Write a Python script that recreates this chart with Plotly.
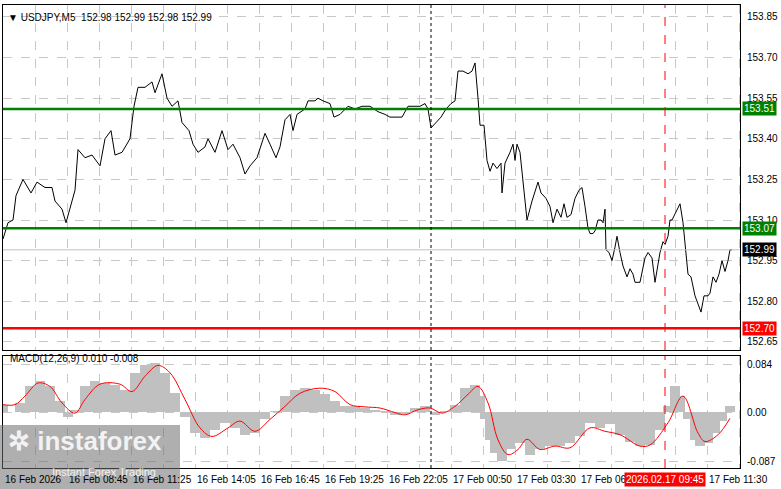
import plotly.graph_objects as go

# ---- data (positions read as pixel columns; converted to 5-minute bar numbers) ----
price_px = [3,8,13,16,23,31,37,45,52,55,62,66,75,78,85,92,100,105,111,115,122,130,134,138,145,152,155,162,167,172,178,182,189,193,198,205,208,215,222,228,233,240,245,250,257,265,270,276,280,285,290,293,297,305,308,315,318,323,330,334,340,348,355,362,370,378,385,390,395,402,408,415,420,425,428,431,436,441,446,451,455,458,463,468,472,475,478,480,484,487,490,493,497,501,502,505,510,513,515,517,520,524,527,532,535,538,541,546,550,553,557,561,564,567,571,575,579,582,585,588,590,593,595,598,601,603,605,606,609,612,615,617,620,623,627,630,633,635,640,645,648,652,655,660,663,665,668,670,672,676,680,683,686,688,691,695,698,701,704,708,710,713,716,719,722,725,728,730,732]
price = [153.03,153.09,153.10,153.19,153.25,153.20,153.24,153.22,153.22,153.17,153.14,153.09,153.21,153.36,153.33,153.34,153.30,153.40,153.43,153.34,153.35,153.40,153.52,153.59,153.59,153.61,153.57,153.64,153.55,153.52,153.54,153.46,153.43,153.38,153.35,153.37,153.40,153.35,153.43,153.36,153.38,153.33,153.27,153.30,153.33,153.42,153.38,153.33,153.37,153.47,153.49,153.43,153.49,153.51,153.54,153.54,153.55,153.54,153.53,153.48,153.49,153.52,153.51,153.52,153.52,153.50,153.49,153.48,153.48,153.48,153.52,153.52,153.52,153.53,153.51,153.44,153.46,153.48,153.51,153.53,153.54,153.65,153.65,153.64,153.65,153.68,153.55,153.45,153.45,153.32,153.28,153.31,153.29,153.31,153.20,153.31,153.35,153.38,153.32,153.38,153.35,153.20,153.10,153.17,153.21,153.24,153.20,153.18,153.15,153.09,153.14,153.11,153.16,153.11,153.12,153.18,153.21,153.22,153.15,153.07,153.05,153.05,153.06,153.10,153.10,153.09,153.14,152.99,152.98,152.95,153.00,153.04,152.98,152.93,152.89,152.92,152.90,152.87,152.87,152.96,152.98,152.96,152.87,152.98,153.02,153.01,153.04,153.10,153.10,153.13,153.16,153.09,152.99,152.90,152.89,152.82,152.79,152.76,152.82,152.82,152.83,152.89,152.87,152.90,152.95,152.91,152.95,152.99,152.99]

hist_px = [3,20,30,40,50,60,68,75,85,95,105,115,125,135,145,155,165,175,185,195,205,215,225,235,245,255,265,275,285,295,305,315,325,335,345,355,365,375,385,395,405,415,425,435,445,455,465,475,480,485,490,495,502,510,520,530,540,550,560,570,580,590,600,610,620,630,640,650,660,668,675,680,688,695,700,708,715,722,730]
macd_hist = [0.013,0.016,0.045,0.054,0.045,0.019,-0.008,0.004,0.045,0.054,0.051,0.048,0.039,0.069,0.083,0.086,0.069,0.033,-0.008,-0.037,-0.046,-0.031,-0.019,-0.028,-0.040,-0.037,-0.013,0.001,0.028,0.039,0.042,0.039,0.031,0.019,0.010,0.010,0.007,0.004,0.001,-0.005,-0.002,0.007,0.010,-0.005,0.001,0.013,0.042,0.048,0.028,-0.013,-0.049,-0.072,-0.087,-0.066,-0.055,-0.075,-0.066,-0.060,-0.060,-0.055,-0.043,-0.019,-0.028,-0.022,-0.040,-0.052,-0.060,-0.058,-0.031,0.010,0.045,0.028,-0.013,-0.049,-0.060,-0.055,-0.037,-0.016,0.010]

sig_px = [3,15,25,38,50,62,75,85,100,120,132,145,158,170,185,200,212,228,240,255,270,285,300,320,335,350,365,380,395,405,418,430,442,455,468,478,488,498,508,518,527,540,555,570,590,605,620,640,650,668,683,698,705,718,730]
macd_signal = [0.013,0.013,0.028,0.051,0.045,0.016,-0.002,0.022,0.049,0.049,0.036,0.063,0.082,0.069,0.022,-0.028,-0.043,-0.028,-0.016,-0.034,-0.013,0.010,0.033,0.042,0.036,0.013,0.009,0.007,-0.001,-0.005,0.004,0.007,-0.002,0.010,0.031,0.045,0.016,-0.049,-0.075,-0.066,-0.048,-0.066,-0.060,-0.063,-0.028,-0.034,-0.040,-0.060,-0.058,-0.019,0.028,-0.037,-0.052,-0.040,-0.011]

levels = [153.51, 153.07, 152.70]
level_colors = ["#008000", "#008000", "#ff0000"]
last_price = 152.99
price_ticks = [153.85, 153.70, 153.55, 153.40, 153.25, 153.10, 152.95, 152.80, 152.65]
time_labels = ["16 Feb 2026", "16 Feb 08:45", "16 Feb 11:25", "16 Feb 14:05", "16 Feb 16:45", "16 Feb 19:25",
               "16 Feb 22:05", "17 Feb 00:50", "17 Feb 03:30", "17 Feb 06:10", "17 Feb 11:30"]
time_label_bars = [0, 32, 64, 96, 128, 160, 192, 224, 256, 288, 352]
session_bar = 214
marker_bar = 331
marker_label = "2026.02.17 09:45"

W, H = 781, 489
def bar(px): return (px - 3) / 2.0

X0, X1 = 3, 740
xr = [0, bar(X1)]
fig = go.Figure()
fig.add_trace(go.Scatter(x=[bar(p) for p in price_px], y=price, mode="lines",
                         line=dict(color="black", width=1), xaxis="x", yaxis="y"))
fig.add_trace(go.Bar(x=[bar(p) for p in hist_px], y=macd_hist, marker_color="#c0c0c0",
                     marker_line_width=0, width=5.2, xaxis="x2", yaxis="y2"))
fig.add_trace(go.Scatter(x=[bar(p) for p in sig_px], y=macd_signal, mode="lines", line_shape="spline",
                         line=dict(color="#ff0000", width=1), xaxis="x2", yaxis="y2"))

dom_x = [X0 / W, X1 / W]
grid = dict(showgrid=True, gridcolor="#c8c8c8", griddash="dash", gridwidth=1)
fig.update_layout(
    width=W, height=H, margin=dict(l=0, r=0, t=0, b=0), plot_bgcolor="white", paper_bgcolor="white",
    showlegend=False, bargap=0,
    font=dict(family="Liberation Sans", size=10, color="black"),
    xaxis=dict(domain=dom_x, range=xr, tickvals=list(range(16, 369, 16)), showticklabels=False,
               showline=True, linecolor="black", mirror=True, zeroline=False, anchor="y", **grid),
    yaxis=dict(domain=[1 - 350 / H, 1 - 5 / H], range=[152.62, 153.894], tickvals=price_ticks,
               showticklabels=False, showline=True, linecolor="black", mirror=True, zeroline=False, **grid),
    xaxis2=dict(domain=dom_x, range=xr, tickvals=list(range(16, 369, 16)), showticklabels=False,
                showline=True, linecolor="black", mirror=True, zeroline=False, anchor="y2", **grid),
    yaxis2=dict(domain=[1 - 468 / H, 1 - 356 / H], range=[-0.0986, 0.0986], tickvals=[0.084, 0.0, -0.087],
                showticklabels=False, showline=True, linecolor="black", mirror=True, zeroline=False, **grid),
)

shapes = []
for lv, c in zip(levels, level_colors):
    shapes.append(dict(type="line", xref="x", yref="y", x0=xr[0], x1=xr[1], y0=lv, y1=lv,
                       line=dict(color=c, width=2.5)))
shapes.append(dict(type="line", xref="x", yref="y", x0=xr[0], x1=xr[1], y0=last_price, y1=last_price,
                   line=dict(color="#c0c0c0", width=1)))
for yr in ["y", "y2"]:
    xr_ = "x" if yr == "y" else "x2"
    shapes.append(dict(type="line", xref=xr_, yref=yr + " domain", x0=session_bar, x1=session_bar, y0=0, y1=1,
                       line=dict(color="black", width=1, dash="dot")))
    shapes.append(dict(type="line", xref=xr_, yref=yr + " domain", x0=marker_bar, x1=marker_bar, y0=0, y1=1,
                       line=dict(color="#ff0000", width=1, dash="dash")))
shapes.append(dict(type="rect", xref="paper", yref="paper", x0=0, x1=180 / W, y0=0, y1=1 - 425 / H,
                   fillcolor="rgba(110,110,110,0.55)", line_width=0, layer="above"))
fig.update_layout(shapes=shapes)

ann = []
def px_y(py): return 1 - py / H
for t in price_ticks:
    ann.append(dict(xref="paper", yref="y", x=745 / W, y=t, text=f"{t:.2f}", showarrow=False,
                    xanchor="left", font=dict(size=10)))
for lv, c in zip(levels, level_colors):
    ann.append(dict(xref="paper", yref="y", x=742 / W, y=lv, text=f"{lv:.2f}", showarrow=False,
                    xanchor="left", bgcolor=c, font=dict(size=10, color="white"), borderpad=1))
ann.append(dict(xref="paper", yref="y", x=742 / W, y=last_price, text=f"{last_price:.2f}", showarrow=False,
                xanchor="left", bgcolor="black", font=dict(size=10, color="white"), borderpad=1))
for v, lab in zip([0.084, 0.0, -0.087], ["0.084", "0.00", "-0.087"]):
    ann.append(dict(xref="paper", yref="y2", x=745 / W, y=v, text=lab, showarrow=False,
                    xanchor="left", font=dict(size=10)))
for b, lab in zip(time_label_bars, time_labels):
    ann.append(dict(xref="x", yref="paper", x=b, y=px_y(479), text=lab, showarrow=False,
                    xanchor="left", yanchor="middle", font=dict(size=10)))
ann.append(dict(xref="x", yref="paper", x=marker_bar, y=px_y(479), text=marker_label, showarrow=False,
                xanchor="center", yanchor="middle", bgcolor="#ff0000", font=dict(size=10, color="white")))
ann.append(dict(xref="paper", yref="paper", x=6 / W, y=px_y(10), text="▼ USDJPY,M5  152.98 152.99 152.98 152.99",
                showarrow=False, xanchor="left", font=dict(size=10)))
ann.append(dict(xref="paper", yref="paper", x=8 / W, y=px_y(366), text="MACD(12,26,9) 0.010 -0.008",
                showarrow=False, xanchor="left", font=dict(size=10)))
ann.append(dict(xref="paper", yref="paper", x=6 / W, y=px_y(458), text="<b>✲ instaforex</b>",
                showarrow=False, xanchor="left", font=dict(size=26, color="rgba(255,255,255,0.85)")))
ann.append(dict(xref="paper", yref="paper", x=50 / W, y=px_y(480), text="Instant Forex Trading",
                showarrow=False, xanchor="left", font=dict(size=11, color="rgba(255,255,255,0.85)")))
fig.update_layout(annotations=ann)

fig.write_html("out.html", config={"displayModeBar": False},
               post_script="document.body.style.margin='0';document.body.style.padding='0';")
